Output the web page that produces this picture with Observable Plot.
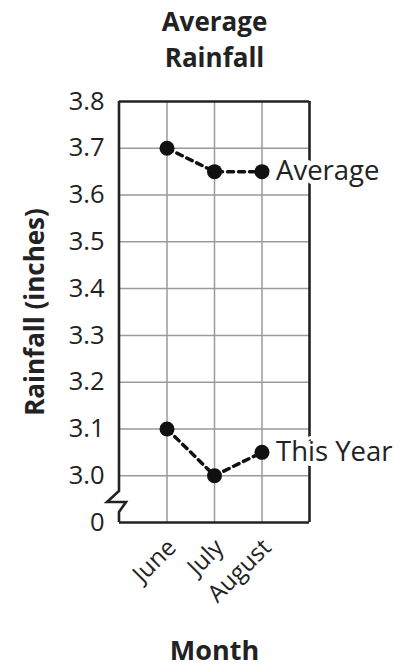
<!DOCTYPE html>
<html><head><meta charset="utf-8">
<script src="https://cdn.jsdelivr.net/npm/d3@7"></script>
<script src="https://cdn.jsdelivr.net/npm/@observablehq/plot@0.6"></script>
<style>body{margin:0;background:#fff} svg{display:block}</style>
</head><body><div id="chart"></div><script>
const title = ["Average", "Rainfall"];
const months = ["June", "July", "August"];
const average = [3.70, 3.65, 3.65];
const thisYear = [3.10, 3.00, 3.05];
const seriesNames = ["Average", "This Year"];
const yTicks = [2.9, 3.0, 3.1, 3.2, 3.3, 3.4, 3.5, 3.6, 3.7, 3.8];
const yTickLabels = ["0", "3.0", "3.1", "3.2", "3.3", "3.4", "3.5", "3.6", "3.7", "3.8"];
const yLabel = "Rainfall (inches)";
const xLabel = "Month";

const pos = months.map((m, i) => i + 1);
const data = [
  ...months.map((m, i) => ({series: seriesNames[0], x: pos[i], y: average[i]})),
  ...months.map((m, i) => ({series: seriesNames[1], x: pos[i], y: thisYear[i]}))
];
const ends = [
  {label: seriesNames[0], x: pos[2], y: average[2]},
  {label: seriesNames[1], x: pos[2], y: thisYear[2]}
];
const font = "'Open Sans', sans-serif";

// left axis with break symbol
function leftAxis(index, scales, values, dims) {
  const x0 = scales.x(0), yTop = scales.y(3.8), yBot = scales.y(2.9);
  const yb = yBot - 31;
  const p = d3.path();
  p.moveTo(x0, yTop); p.lineTo(x0, yb);
  p.lineTo(x0 - 12, yb + 11); p.lineTo(x0 + 7, yb + 11);
  p.lineTo(x0, yb + 21); p.lineTo(x0, yBot);
  const g = d3.create("svg:path").attr("d", p.toString())
    .attr("fill", "none").attr("stroke", "#222").attr("stroke-width", 2.6)
    .attr("stroke-linejoin", "miter");
  return g.node();
}

const chart = Plot.plot({
  width: 400, height: 668,
  marginLeft: 119, marginRight: 91, marginTop: 101, marginBottom: 146,
  style: {fontFamily: font, background: "#fff", color: "#222"},
  x: {domain: [0, 4], axis: null},
  y: {domain: [2.9, 3.8], axis: null},
  marks: [
    Plot.ruleX(pos, {stroke: "#9a9a9a", strokeWidth: 1.5}),
    Plot.ruleY(yTicks.slice(1, -1), {stroke: "#9a9a9a", strokeWidth: 1.5}),
    Plot.ruleY([3.8, 2.9], {x1: 0, x2: 4, stroke: "#222", strokeWidth: 2.6}),
    Plot.ruleX([4], {y1: 2.9, y2: 3.8, stroke: "#222", strokeWidth: 2.6}),
    leftAxis,
    Plot.text(yTicks, {x: 0, y: d => d, text: (d, i) => yTickLabels[i], textAnchor: "end", dx: -15, fontSize: 25.5, fill: "#222"}),
    Plot.line(data, {x: "x", y: "y", z: "series", stroke: "#111", strokeWidth: 3.5, strokeDasharray: "6,5"}),
    Plot.dot(data, {x: "x", y: "y", r: 7.5, fill: "#111"}),
    Plot.text(ends, {x: "x", y: "y", text: "label", textAnchor: "start", dx: 14, fontSize: 27.5, fill: "#222", stroke: "white", strokeWidth: 10}),
    Plot.text(months, {x: (d, i) => pos[i], y: 2.9, text: d => d, rotate: -45, textAnchor: "end", lineAnchor: "middle", dx: 5, dy: 21, fontSize: 24, fill: "#222"}),
    Plot.text([xLabel], {frameAnchor: "bottom", lineAnchor: "middle", dy: 129, text: d => d, fontSize: 27, fontWeight: "bold", fill: "#222"}),
    Plot.text([yLabel], {frameAnchor: "left", textAnchor: "middle", lineAnchor: "middle", dx: -84, rotate: -90, text: d => d, fontSize: 26, fontWeight: "bold", fill: "#222"}),
    Plot.text([title.join("\n")], {frameAnchor: "top", lineAnchor: "middle", lineHeight: 1.385, dy: -64, text: d => d, fontSize: 26, fontWeight: "bold", fill: "#222"})
  ]
});
document.getElementById("chart").append(chart);
</script></body></html>
